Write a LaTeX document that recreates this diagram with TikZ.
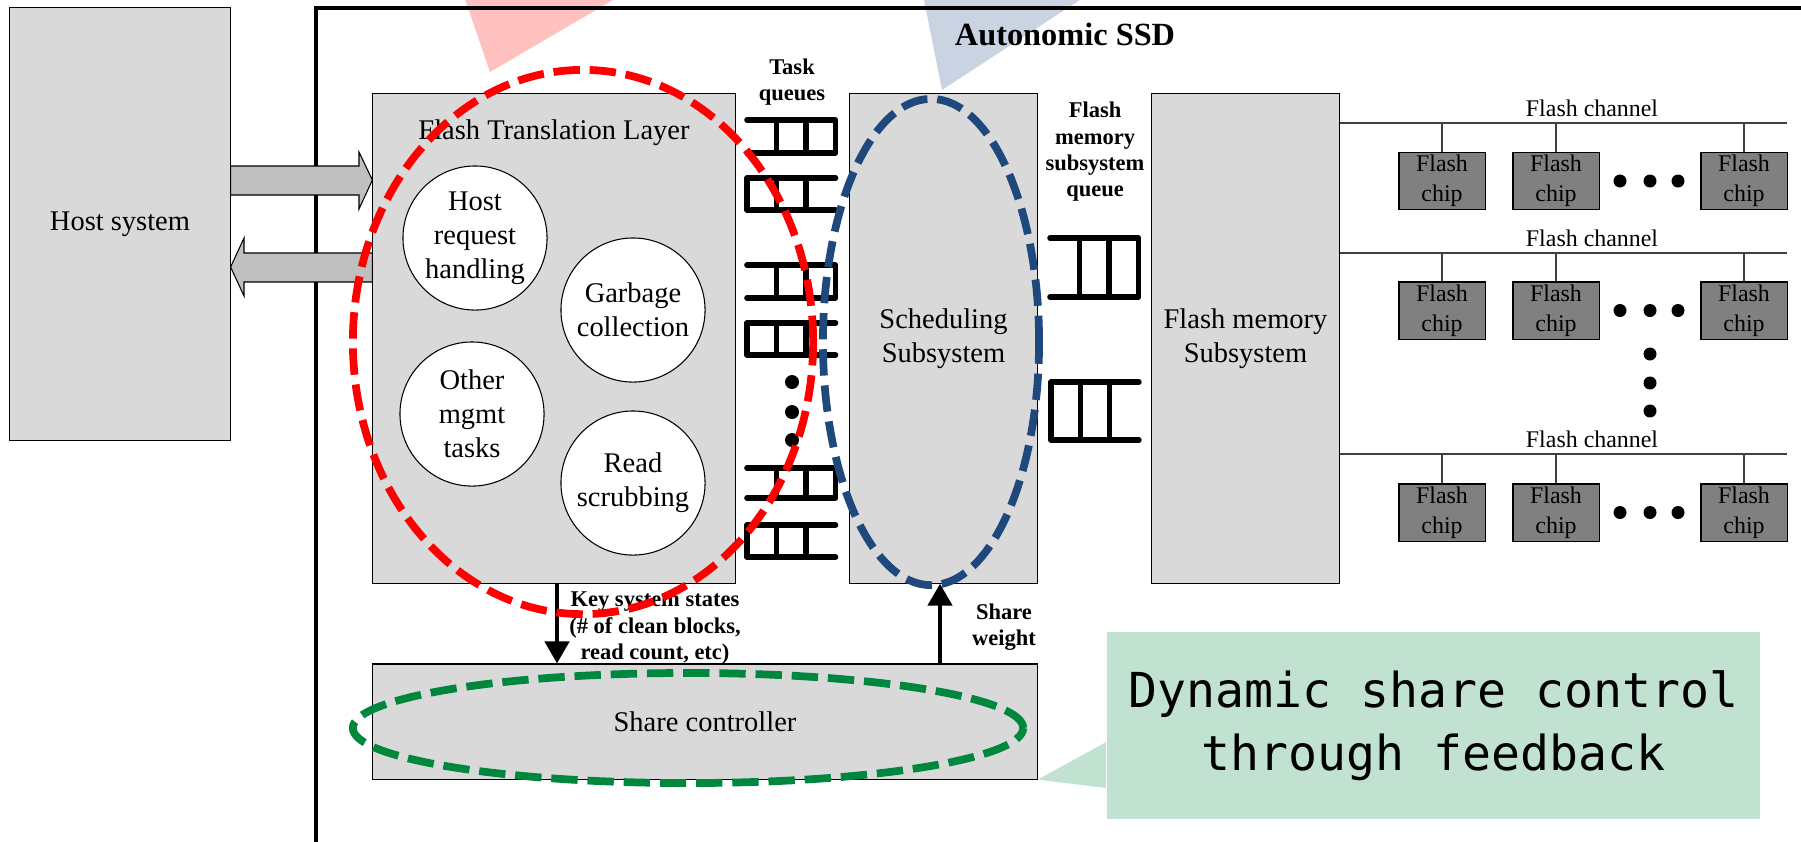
\documentclass[tikz,border=0pt]{standalone}
\usepackage{fontspec}
\setmainfont{Liberation Serif}
\newfontfamily\monofont{DejaVu Sans Mono}
\usepackage{tikz}
\usetikzlibrary{arrows.meta,calc,positioning,shapes.geometric}
\definecolor{boxgray}{HTML}{D9D9D9}
\definecolor{arrowgray}{HTML}{BFBFBF}
\definecolor{chipgray}{HTML}{808080}
\definecolor{ftlred}{HTML}{FF0000}
\definecolor{schedblue}{HTML}{1F497D}
\definecolor{sharegreen}{HTML}{00873E}
\definecolor{calloutgreen}{HTML}{C2E2D1}
\definecolor{pinkwedge}{HTML}{FFC0C0}
\definecolor{bluewedge}{HTML}{C9D3E1}
\tikzset{%
	block/.style    = {draw, fill=boxgray, rectangle, line width=0.3pt, inner sep=0pt, align=center},
	task/.style     = {draw, fill=white, circle, minimum size=1.44cm, inner sep=0pt, line width=0.3pt, align=center},
	chip/.style     = {draw, fill=chipgray, rectangle, minimum width=0.86cm, minimum height=0.57cm, inner sep=0pt, line width=0.3pt, align=center, font=\fontsize{6.8}{8.5}\selectfont},
	lbl/.style      = {align=center, inner sep=0pt, font=\bfseries\fontsize{6.4}{7.5}\selectfont},
	queue/.style    = {line width=1.6pt, line cap=round, line join=round},
	bigarrow/.style = {draw, fill=arrowgray, line width=0.3pt},
	feedback/.style = {line width=1.3pt, -{Triangle[width=2.4mm,length=2.2mm]}},
	focus/.style    = {line width=2.2pt, dash pattern=on 7.5pt off 2.8pt},
	channel/.style  = {draw=darkgray, line width=0.4pt},
}
% queue icon, closed on the right: left x, top y, bottom y, cell width
\newcommand{\qopenleft}[4]{%
	\draw[queue] (#1,#2) -- (#1+3*#4,#2) -- (#1+3*#4,#3) -- (#1,#3);
	\draw[queue] (#1+#4,#2) -- (#1+#4,#3) (#1+2*#4,#2) -- (#1+2*#4,#3);}
% queue icon, closed on the left
\newcommand{\qopenright}[4]{%
	\draw[queue] (#1+3*#4,#2) -- (#1,#2) -- (#1,#3) -- (#1+3*#4,#3);
	\draw[queue] (#1+#4,#2) -- (#1+#4,#3) (#1+2*#4,#2) -- (#1+2*#4,#3);}

\begin{document}
\begin{tikzpicture}[x=0.01cm, y=-0.01cm, font=\fontsize{8.1}{9.7}\selectfont]
	\useasboundingbox (0,0) rectangle (1801,841);
	\clip (0,0) rectangle (1801,841);
	
	\fill[pinkwedge] (490,72) -- (462,-10) -- (630,-10) -- cycle;
	\fill[bluewedge] (942,90) -- (922,-10) -- (1095,-10) -- cycle;
	\draw[line width=1pt] (1810,8) -| (316,850);
	\node[font=\bfseries\fontsize{9.2}{11}\selectfont] (ssd) at (1065,34) {Autonomic SSD};
	
	\node[block, minimum width=2.2cm, minimum height=4.32cm] (host) at (120,224) {Host system};
	\node[block, minimum width=3.62cm, minimum height=4.89cm] (ftl) at (554,338.5) {};
	\node (ftltitle) at (554,133) {Flash Translation Layer};
	\node[block, minimum width=1.87cm, minimum height=4.89cm] (sched) at (943.5,338.5) {Scheduling\\Subsystem};
	\node[block, minimum width=1.87cm, minimum height=4.89cm] (fms) at (1245.5,338.5) {Flash memory\\Subsystem};
	\node[block, minimum width=6.64cm, minimum height=1.15cm] (share) at (705,721.5) {Share controller};
	
	\draw[bigarrow] (host.east |- 0,166) -- (359,166) -- (359,152) -- (ftl.west |- 0,180) -- (359,209) -- (359,195) -- (host.east |- 0,195) -- cycle;
	\draw[bigarrow] (ftl.west |- 0,253) -- (244,253) -- (244,238) -- (host.east |- 0,267) -- (244,296) -- (244,282) -- (ftl.west |- 0,282) -- cycle;
	
	\node[task] (hostreq) at (475,238) {Host\\request\\handling};
	\node[task] (garbage) at (633,310) {Garbage\\collection};
	\node[task] (othermgmt) at (472,414) {Other\\mgmt\\tasks};
	\node[task] (readscrub) at (633,483) {Read\\scrubbing};
	
	% task queues
	\node[lbl] (tqlabel) at (792,82) {Task\\queues};
	\foreach \t/\b in {120/153,265/298,468/498} \qopenleft{747}{\t}{\b}{29.5};
	\foreach \t/\b in {178/210,323/355,525/557} \qopenright{747}{\t}{\b}{29.5};
	\foreach \y in {382,412,440} \fill (792,\y) circle [radius=0.07cm];
	
	% flash memory subsystem queue
	\node[lbl] (fmqlabel) at (1095,152) {Flash\\memory\\subsystem\\queue};
	\qopenleft{1050}{238}{297}{29.5}
	\qopenright{1051}{382}{440}{29.3}
	
	% flash channels
	\foreach \r/\cy/\ly in {1/123/181,2/253/310.5,3/454/512.5} {
		\coordinate (chend-\r) at (1787,\cy);
		\draw[channel] (fms.east |- chend-\r) -- (chend-\r);
		\node (chlabel-\r) at (1592,\cy-15) {\fontsize{6.8}{8}\selectfont Flash channel};
		\foreach \c/\cx in {1/1442,2/1556,3/1744} {
			\node[chip] (chip-\r-\c) at (\cx,\ly) {Flash\\chip};
			\draw[channel] (chip-\r-\c.north) -- (chip-\r-\c.north |- chend-\r);
		}
		\foreach \dx in {1620,1650,1678} \fill (\dx,\ly) circle [radius=0.065cm];
	}
	\foreach \y in {354,383,411} \fill (1650,\y) circle [radius=0.065cm];
	
	% feedback loop
	\draw[feedback] (ftl.south -| 557,0) -- (share.north -| 557,0);
	\node[lbl] (states) at (655,628) {Key system states\\(\# of clean blocks,\\read count, etc)};
	\draw[feedback] (share.north -| 940,0) -- (sched.south -| 940,0);
	\node[lbl] (weight) at (1004,627) {Share\\weight};
	
	\node[fill=calloutgreen, minimum width=6.53cm, minimum height=1.87cm, align=center, font=\monofont\fontsize{13.7}{17.9}\selectfont] (callout) at (1433.5,725.5) {Dynamic share control\\through feedback};
	\fill[calloutgreen] (callout.west |- 0,742) -- (share.south east) -- (callout.west |- 0,788) -- cycle;
	
	\draw[focus, ftlred] (583,342) ellipse [x radius=2.30cm, y radius=2.72cm];
	\draw[focus, schedblue] (931,342) ellipse [x radius=1.08cm, y radius=2.43cm];
	\draw[focus, sharegreen] (688,728) ellipse [x radius=3.35cm, y radius=0.55cm];
\end{tikzpicture}
\end{document}
